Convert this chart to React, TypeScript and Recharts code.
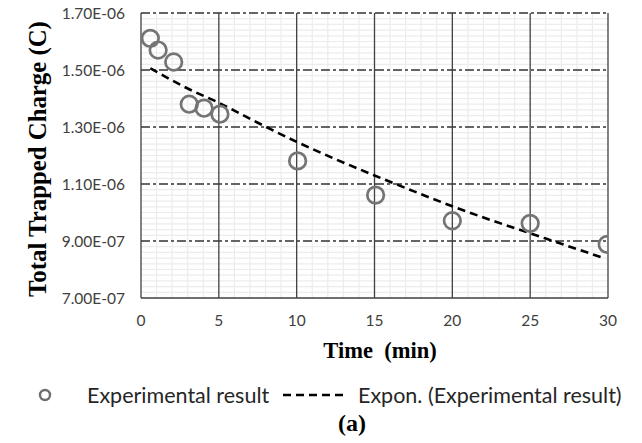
import React from 'react'
import { ComposedChart, Scatter, Line, XAxis, YAxis, ReferenceLine } from 'recharts'

// ── Data ─────────────────────────────────────────────────────────────────────

const times = [0.6, 1.1, 2.1, 3.1, 4.05, 5.07, 10.06, 15.07, 20.0, 25.0, 29.95]
const charge = [1.611e-6, 1.570e-6, 1.528e-6, 1.380e-6, 1.366e-6, 1.345e-6, 1.181e-6, 1.061e-6, 0.971e-6, 0.962e-6, 0.888e-6]

// exponential trend line as drawn in the picture
const trendTimes = [0.6, 3, 5, 7.5, 10, 12.5, 15, 17.5, 20, 22.5, 25, 27.5, 29.8]
const trendCharge = [1.506e-6, 1.435e-6, 1.385e-6, 1.315e-6, 1.248e-6, 1.187e-6, 1.130e-6, 1.075e-6, 1.022e-6, 0.973e-6, 0.927e-6, 0.881e-6, 0.839e-6]

const xTicks = [0, 5, 10, 15, 20, 25, 30]
const yTicks = [7e-7, 9e-7, 1.1e-6, 1.3e-6, 1.5e-6, 1.7e-6]
const xMinor = [1, 2, 3, 4, 6, 7, 8, 9, 11, 12, 13, 14, 16, 17, 18, 19, 21, 22, 23, 24, 26, 27, 28, 29]
const yMinorSteps = [1, 2, 3, 4, 5, 6, 7, 8, 9]

const points = times.map((t, i) => ({ t, q: charge[i] }))
const trend = trendTimes.map((t, i) => ({ t, q: trendCharge[i] }))

function sci(v: number) {
  const [m, e] = v.toExponential(2).split('e')
  const sign = e[0] === '-' ? '-' : '+'
  const digits = e.replace(/[-+]/, '').padStart(2, '0')
  return `${m}E${sign}${digits}`
}

const tickStyle = { fontFamily: 'Lato', fontSize: 15.5, fill: '#404040' }
const titleFont = '"Liberation Serif", "Times New Roman", serif'

function Ring(props: { cx?: number; cy?: number }) {
  const { cx, cy } = props
  if (cx == null || cy == null) return null
  return <circle cx={cx} cy={cy} r={8.3} fill="none" stroke="#747474" strokeWidth={2.7} />
}

export default function App() {
  const yMinor: number[] = []
  for (let k = 0; k < yTicks.length - 1; k++) {
    for (const s of yMinorSteps) yMinor.push(yTicks[k] + s * 2e-8)
  }

  return (
    <div style={{ position: 'relative', width: 642, height: 443, background: '#fff' }}>
      <style>{'body{margin:0}'}</style>
      <ComposedChart width={642} height={443} margin={{ top: 13, right: 34, left: 0, bottom: 0 }}>
        <XAxis
          type="number"
          dataKey="t"
          domain={[0, 30]}
          ticks={xTicks}
          height={145}
          tick={tickStyle}
          tickLine={false}
          tickSize={6}
          tickMargin={11}
          axisLine={{ stroke: '#404040', strokeWidth: 1.3 }}
          allowDataOverflow
        />
        <YAxis
          type="number"
          dataKey="q"
          domain={[7e-7, 1.7e-6]}
          ticks={yTicks}
          width={141}
          tick={tickStyle}
          tickLine={false}
          tickSize={6}
          tickMargin={10}
          tickFormatter={sci}
          axisLine={{ stroke: '#404040', strokeWidth: 1.3 }}
          allowDataOverflow
        />

        {/* minor grid */}
        {xMinor.map(x => (
          <ReferenceLine key={`vx${x}`} x={x} stroke="#ececec" strokeWidth={1.2} />
        ))}
        {yMinor.map((y, i) => (
          <ReferenceLine key={`hy${i}`} y={y} stroke="#ececec" strokeWidth={1.2} />
        ))}

        {/* major grid */}
        {yTicks.slice(1).map(y => (
          <ReferenceLine key={`my${y}`} y={y} stroke="#333" strokeWidth={1.3} strokeDasharray="9 3 3 3" />
        ))}
        {xTicks.slice(1).map(x => (
          <ReferenceLine key={`mx${x}`} x={x} stroke="#404040" strokeWidth={1.3} />
        ))}

        <Line
          data={trend}
          dataKey="q"
          type="monotone"
          stroke="#000"
          strokeWidth={2.6}
          strokeDasharray="8 5"
          dot={false}
          activeDot={false}
          isAnimationActive={false}
        />
        <Scatter data={points} dataKey="q" shape={<Ring />} isAnimationActive={false} />
      </ComposedChart>

      {/* axis titles */}
      <div
        style={{
          position: 'absolute', left: 38, top: 159, transform: 'translate(-50%, -50%) rotate(-90deg)',
          fontFamily: titleFont, fontWeight: 'bold', fontSize: 24.8, whiteSpace: 'pre', color: '#000',
        }}
      >
        Total Trapped Charge (C)
      </div>
      <div
        style={{
          position: 'absolute', left: 380, top: 351, transform: 'translate(-50%, -50%)',
          fontFamily: titleFont, fontWeight: 'bold', fontSize: 22.5, whiteSpace: 'pre', color: '#000',
        }}
      >
        {'Time  (min)'}
      </div>

      {/* legend */}
      <svg style={{ position: 'absolute', left: 0, top: 380 }} width={642} height={32}>
        <circle cx={45} cy={15} r={5} fill="none" stroke="#6e6e6e" strokeWidth={2.4} />
        <text x={87} y={22.5} fontFamily="Lato" fontSize={21.5} fill="#262626">Experimental result</text>
        <line x1={283} y1={15} x2={347} y2={15} stroke="#000" strokeWidth={2.6} strokeDasharray="8 5" />
        <text x={358} y={22.5} fontFamily="Lato" fontSize={21.5} fill="#262626">Expon. (Experimental result)</text>
      </svg>
      <div
        style={{
          position: 'absolute', left: 352, top: 423, transform: 'translate(-50%, -50%)',
          fontFamily: titleFont, fontWeight: 'bold', fontSize: 24, color: '#000',
        }}
      >
        (a)
      </div>
    </div>
  )
}
